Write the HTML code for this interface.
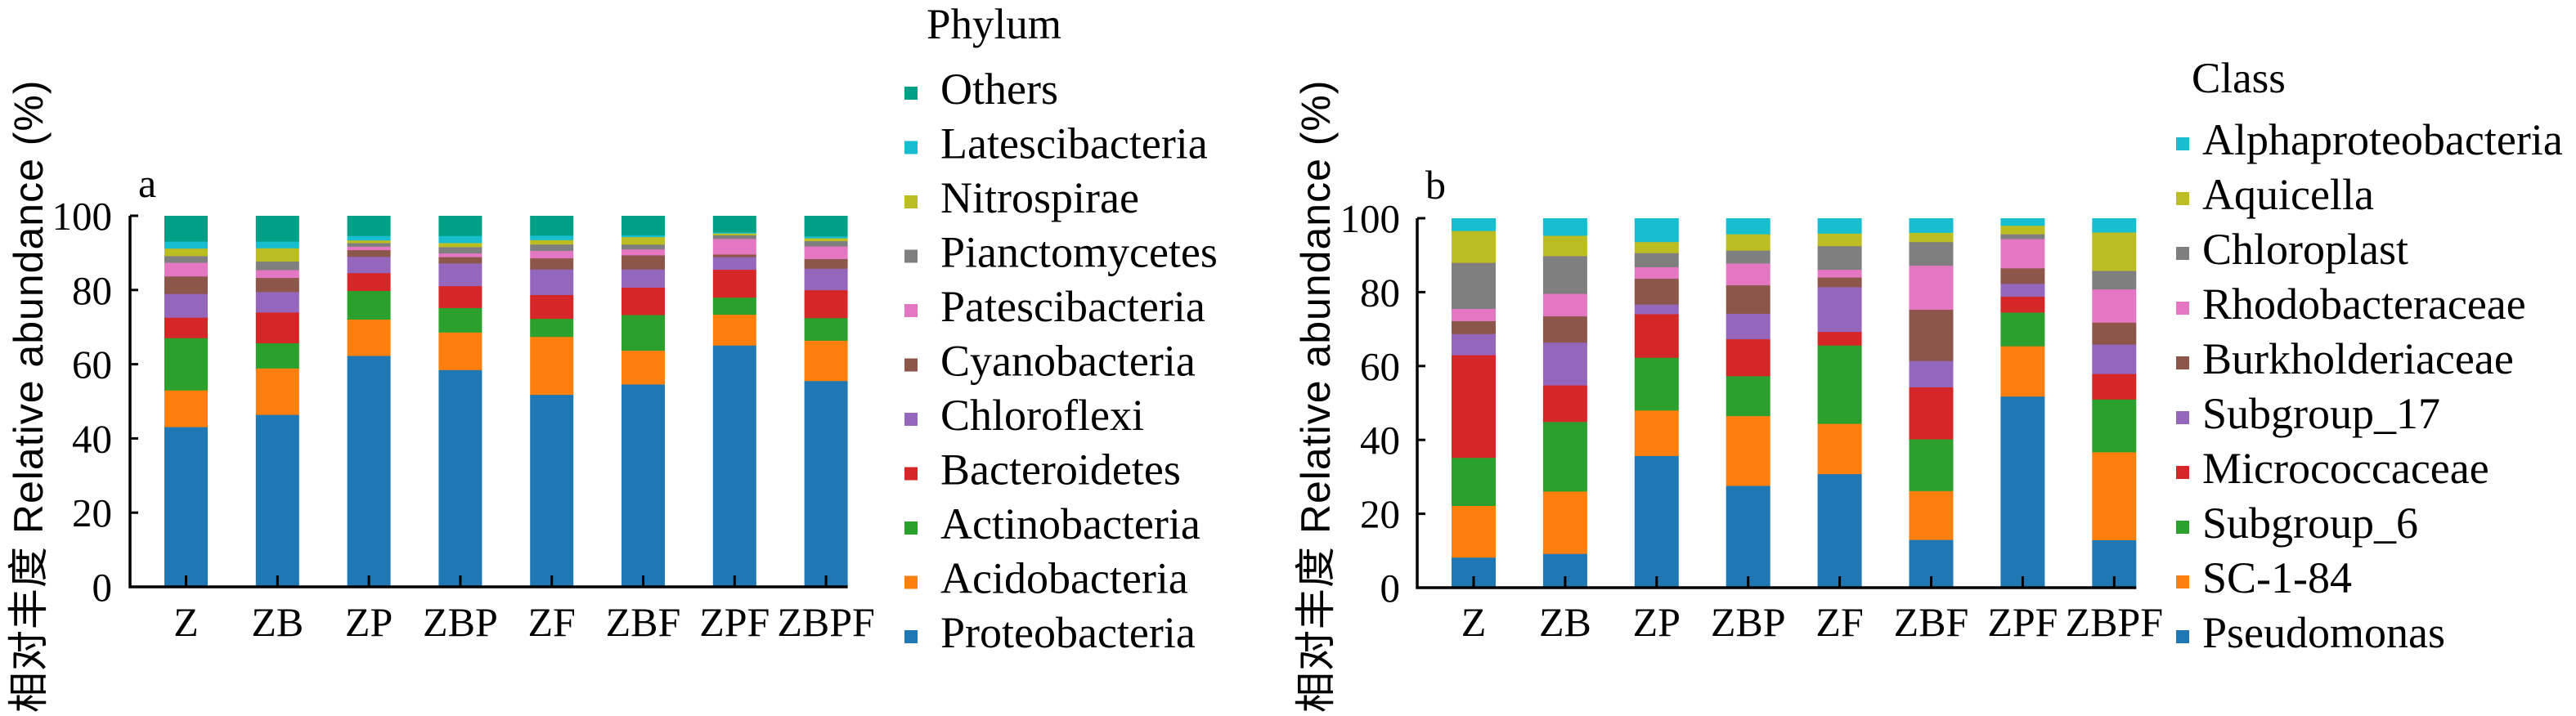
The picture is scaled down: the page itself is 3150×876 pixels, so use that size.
<!DOCTYPE html>
<html><head><meta charset="utf-8"><style>
html,body{margin:0;padding:0;background:#fff;overflow:hidden;}
svg{display:block}
</style></head><body>
<svg id="s" xmlns="http://www.w3.org/2000/svg" width="3150" height="876" viewBox="0 0 3150 876"></svg>
<script>
const C=['#1f77b4','#ff7f0e','#2ca02c','#d62728','#9467bd','#8c564b','#e377c2','#7f7f7f','#bcbd22','#17becf','#00a087'];
const A=[
[43.1,53,67.1,72.6,79,83.7,87.4,89.2,91.2,93.1,100],
[46.4,58.9,65.7,74,79.5,83.3,85.4,87.7,91.3,93.1,100],
[62.3,72.1,79.8,84.6,89,90.8,91.7,92.7,93.4,94.6,100],
[58.5,68.6,75.2,81.1,87.2,88.9,89.9,91.6,92.7,94.6,100],
[51.8,67.4,72.3,78.7,85.6,88.6,90.6,92.3,93.5,94.7,100],
[54.6,63.7,73.3,80.7,85.6,89.4,91,92.3,94.3,94.8,100],
[65.1,73.4,78,85.5,88.9,89.6,93.8,94.8,95.3,95.6,100],
[55.5,66.4,72.5,80,85.8,88.4,91.8,93.2,94,94.5,100]];
const B=[
[8.2,22.2,35.2,63,68.7,72.2,75.5,88,96.6,100],
[9.2,26.1,44.9,54.8,66.4,73.5,79.6,89.8,95.3,100],
[35.7,48,62.3,74.1,76.7,83.7,86.8,90.6,93.6,100],
[27.6,46.5,57.3,67.3,74.2,81.9,87.8,91.3,95.7,100],
[30.8,44.4,65.6,69.3,81.4,84,86.1,92.5,95.9,100],
[13,26.2,40.2,54.3,61.4,75.3,87.2,93.6,96.1,100],
[51.8,65.4,74.5,78.8,82.3,86.5,94.4,95.7,98,100],
[12.9,36.7,51,57.9,65.9,71.8,80.8,85.8,96.2,100]];
const X=['Z','ZB','ZP','ZBP','ZF','ZBF','ZPF','ZBPF'];
let h='';
const serif='font-family="Liberation Serif, serif"';
function panel(data,ax,y0,sc,b0,bw,pitch,tickR,letter,lx,ly,ylx){
  data.forEach((d,i)=>{
    const x=b0+i*pitch;let prev=0;
    d.forEach((v,j)=>{
      const yt=y0-v*sc, yb=y0-prev*sc;
      h+=`<rect x="${x}" y="${yt.toFixed(1)}" width="${bw}" height="${(yb-yt+0.3).toFixed(1)}" fill="${C[j]}"/>`;
      prev=v;
    });
    const cx=x+bw/2;
    h+=`<line x1="${cx}" y1="${y0}" x2="${cx}" y2="${y0-14}" stroke="#000" stroke-width="3"/>`;
    h+=`<text x="${cx}" y="778" ${serif} font-size="50" text-anchor="middle">${X[i]}</text>`;
  });
  const xe=b0+7*pitch+bw;
  h+=`<line x1="${ax}" y1="${y0-100*sc}" x2="${ax}" y2="${y0+1.5}" stroke="#000" stroke-width="3.5"/>`;
  h+=`<line x1="${ax-1.5}" y1="${y0}" x2="${xe}" y2="${y0}" stroke="#000" stroke-width="3.5"/>`;
  for(let t=0;t<=100;t+=20){
    const y=y0-t*sc;
    h+=`<line x1="${ax}" y1="${y}" x2="${ax+10}" y2="${y}" stroke="#000" stroke-width="3"/>`;
    h+=`<text x="${tickR}" y="${y+17}" ${serif} font-size="49" text-anchor="end">${t}</text>`;
  }
  h+=`<text x="${lx}" y="${ly}" ${serif} font-size="50">${letter}</text>`;
  h+=`<text transform="translate(${ylx},872) rotate(-90)" font-family="Liberation Sans, Noto Sans CJK SC, sans-serif" font-size="50" letter-spacing="1">相对丰度 Relative abundance (%)</text>`;
}
panel(A,159,718,4.54,201,53,111.8,137,'a',169,241,52);
panel(B,1733,719,4.52,1775,54,111.9,1712,'b',1743,243,1626);
function legend(title,tx,ty,names,mx,textx,base0,sp,cols){
  h+=`<text x="${tx}" y="${ty}" ${serif} font-size="53">${title}</text>`;
  names.forEach((n,i)=>{
    const by=base0+i*sp;
    h+=`<rect x="${mx}" y="${by-21}" width="16" height="16" fill="${cols[i]}"/>`;
    h+=`<text x="${textx}" y="${by}" ${serif} font-size="54">${n}</text>`;
  });
}
legend('Phylum',1133,47,['Others','Latescibacteria','Nitrospirae','Pianctomycetes','Patescibacteria','Cyanobacteria','Chloroflexi','Bacteroidetes','Actinobacteria','Acidobacteria','Proteobacteria'],1106,1150,127,66.5,C.slice().reverse());
legend('Class',2680,113,['Alphaproteobacteria','Aquicella','Chloroplast','Rhodobacteraceae','Burkholderiaceae','Subgroup_17','Micrococcaceae','Subgroup_6','SC-1-84','Pseudomonas'],2661,2693,189,67,C.slice(0,10).reverse());
document.getElementById('s').innerHTML=h;
</script>
</body></html>
